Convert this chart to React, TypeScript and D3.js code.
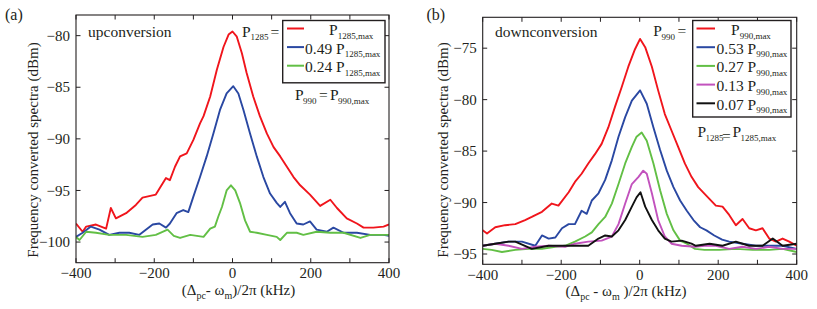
import React from 'react';
import * as d3 from 'd3';

type Pt = [number, number];

const FONT = "'Liberation Serif', 'DejaVu Serif', serif";
const INK = '#231f20';

// axis ticks
const xTicks = [-400, -300, -200, -100, 0, 100, 200, 300, 400];
const xTickLabels = [-400, -200, 0, 200, 400];
const yTicksUp = [-100, -95, -90, -85, -80];
const yTicksDown = [-95, -90, -85, -80, -75];

// (a) upconversion, P1285 varied
const upRed: Pt[] = [[-400,-98.2],[-383,-99.0],[-374,-98.5],[-349,-98.3],[-323,-98.7],[-311,-96.7],[-298,-97.7],[-272,-97.2],[-247,-96.4],[-230,-95.7],[-196,-95.4],[-170,-93.8],[-160,-94.0],[-147,-92.7],[-134,-91.7],[-117,-91.4],[-100,-90.1],[-83,-88.5],[-74,-87.8],[-57,-85.9],[-40,-83.3],[-23,-81.1],[-10,-79.9],[0,-79.6],[11,-80.1],[24,-81.7],[36,-83.6],[53,-85.9],[70,-87.8],[88,-89.5],[105,-90.8],[122,-91.7],[139,-92.7],[156,-93.7],[173,-94.5],[198,-95.4],[224,-96.5],[250,-95.9],[267,-96.7],[292,-97.7],[318,-98.2],[335,-98.6],[360,-98.6],[386,-98.5],[400,-98.3]];
const upBlue: Pt[] = [[-400,-99.5],[-383,-99.1],[-362,-98.5],[-340,-98.8],[-315,-99.3],[-289,-99.1],[-264,-99.1],[-238,-99.3],[-204,-98.3],[-187,-98.2],[-170,-98.6],[-160,-98.2],[-143,-97.2],[-126,-96.9],[-113,-97.1],[-100,-95.6],[-83,-93.7],[-66,-91.7],[-49,-89.5],[-32,-87.2],[-15,-85.6],[2,-84.9],[15,-85.6],[28,-87.2],[45,-89.5],[62,-91.7],[79,-93.7],[96,-95.3],[113,-96.2],[122,-96.6],[134,-96.1],[147,-97.2],[164,-98.2],[181,-98.3],[198,-98.0],[215,-98.8],[241,-99.0],[258,-98.6],[284,-99.1],[318,-99.1],[352,-99.3],[386,-99.3],[400,-99.4]];
const upGreen: Pt[] = [[-400,-99.5],[-391,-99.8],[-374,-99.0],[-349,-99.1],[-315,-99.3],[-272,-99.3],[-230,-99.5],[-196,-99.3],[-166,-98.8],[-150,-99.4],[-134,-99.6],[-108,-99.3],[-74,-99.5],[-57,-98.7],[-45,-98.5],[-36,-97.5],[-27,-96.6],[-15,-95.0],[-4,-94.5],[7,-95.0],[19,-96.2],[32,-97.9],[45,-99.0],[62,-99.1],[88,-99.3],[113,-99.5],[122,-99.8],[139,-99.1],[164,-99.1],[181,-99.3],[215,-99.0],[250,-99.1],[284,-99.1],[327,-99.6],[352,-99.3],[394,-99.3],[400,-99.3]];

// (b) downconversion, P990 varied
const downRed: Pt[] = [[-400,-92.7],[-389,-93.0],[-368,-92.4],[-343,-92.2],[-317,-92.1],[-292,-91.7],[-275,-91.4],[-249,-90.9],[-224,-90.1],[-207,-90.3],[-181,-89.0],[-165,-88.0],[-148,-87.2],[-131,-86.2],[-114,-85.3],[-97,-84.3],[-80,-82.7],[-63,-80.7],[-46,-78.8],[-29,-76.8],[-12,-75.1],[1,-74.1],[14,-74.9],[31,-76.8],[47,-79.1],[64,-81.4],[81,-83.0],[98,-84.6],[115,-86.2],[132,-87.5],[149,-88.5],[169,-89.3],[194,-90.3],[211,-90.4],[228,-91.2],[245,-92.2],[262,-91.6],[279,-92.5],[296,-92.7],[313,-92.5],[330,-93.5],[347,-93.8],[364,-93.5],[381,-93.8],[400,-94.2]];
const downBlue: Pt[] = [[-400,-94.2],[-368,-94.0],[-334,-93.8],[-300,-93.8],[-266,-94.2],[-249,-93.2],[-232,-93.5],[-215,-93.4],[-198,-92.5],[-181,-92.1],[-165,-92.1],[-148,-90.8],[-135,-91.1],[-122,-89.8],[-105,-89.1],[-88,-87.8],[-71,-85.9],[-54,-83.6],[-37,-81.7],[-20,-80.1],[1,-79.1],[18,-80.4],[35,-82.7],[52,-84.9],[69,-86.9],[86,-88.5],[103,-89.8],[120,-90.8],[137,-91.7],[154,-92.4],[170,-92.7],[190,-93.2],[210,-93.6],[228,-93.8],[262,-94.0],[296,-94.2],[330,-94.2],[364,-94.2],[400,-94.5]];
const downGreen: Pt[] = [[-400,-94.5],[-377,-94.6],[-351,-94.8],[-317,-94.6],[-283,-94.5],[-249,-94.5],[-215,-94.3],[-190,-94.2],[-165,-93.8],[-139,-93.3],[-122,-92.9],[-105,-92.1],[-88,-91.4],[-71,-90.1],[-54,-88.2],[-37,-86.2],[-20,-84.6],[-8,-83.6],[5,-83.2],[18,-84.0],[35,-86.2],[52,-88.8],[69,-91.1],[86,-92.7],[103,-93.7],[120,-94.0],[141,-94.5],[165,-94.6],[203,-94.6],[245,-94.5],[288,-94.6],[330,-94.6],[364,-94.5],[400,-94.8]];
const downMagenta: Pt[] = [[-400,-94.2],[-368,-94.0],[-334,-94.2],[-300,-94.5],[-266,-94.3],[-232,-94.2],[-190,-94.3],[-165,-94.0],[-131,-93.8],[-97,-93.7],[-71,-93.3],[-54,-92.1],[-37,-90.1],[-20,-88.2],[-3,-87.5],[9,-86.9],[18,-87.2],[31,-89.1],[47,-91.7],[64,-93.3],[81,-94.0],[107,-94.2],[141,-94.3],[165,-94.2],[194,-94.2],[228,-94.5],[262,-94.3],[296,-94.5],[330,-94.3],[364,-94.5],[400,-94.5]];
const downBlack: Pt[] = [[-400,-94.2],[-368,-94.0],[-334,-93.8],[-317,-93.8],[-275,-94.5],[-232,-94.2],[-190,-94.2],[-165,-94.2],[-131,-94.2],[-105,-93.5],[-88,-93.2],[-71,-93.3],[-54,-92.7],[-37,-91.7],[-20,-90.4],[-8,-89.5],[2,-89.0],[14,-90.4],[31,-91.7],[47,-92.7],[64,-93.5],[81,-93.8],[107,-93.7],[132,-94.0],[143,-94.2],[178,-94.0],[211,-94.2],[245,-93.8],[279,-94.2],[313,-94.2],[339,-93.5],[364,-94.2],[400,-94.0]];

const colors = {
  red: '#f0151c',
  blue: '#2a48a2',
  green: '#62bf45',
  magenta: '#c252bd',
  black: '#111111',
};

const upCoefs = ['', '0.49', '0.24'];
const downCoefs = ['', '0.53', '0.27', '0.13', '0.07'];

type Series = { data: Pt[]; color: string };

function Panel(props: {
  id: string;
  x0: number; x1: number; y0: number; y1: number;
  yDomain: [number, number];
  yTicks: number[];
  series: Series[];
}) {
  const { id, x0, x1, y0, y1, yDomain, yTicks, series } = props;
  const x = d3.scaleLinear().domain([-400, 400]).range([x0, x1]);
  const y = d3.scaleLinear().domain(yDomain).range([y1, y0]);
  const line = d3.line<Pt>().x(d => x(d[0])).y(d => y(d[1]));
  const tl = 4.5;
  return (
    <g>
      <defs>
        <clipPath id={'clip-' + id}>
          <rect x={x0} y={y0} width={x1 - x0} height={y1 - y0} />
        </clipPath>
      </defs>
      <g clipPath={`url(#clip-${id})`}>
        {series.map((s, i) => (
          <path key={i} d={line(s.data) || ''} fill="none" stroke={s.color}
            strokeWidth={1.9} strokeLinejoin="round" />
        ))}
      </g>
      <rect x={x0} y={y0} width={x1 - x0} height={y1 - y0} fill="none" stroke={INK} strokeWidth={1.1} />
      {xTicks.map(t => (
        <g key={'x' + t} stroke={INK} strokeWidth={1}>
          <line x1={x(t)} x2={x(t)} y1={y1} y2={y1 - tl} />
          <line x1={x(t)} x2={x(t)} y1={y0} y2={y0 + tl} />
        </g>
      ))}
      {yTicks.map(t => (
        <g key={'y' + t} stroke={INK} strokeWidth={1}>
          <line x1={x0} x2={x0 + tl} y1={y(t)} y2={y(t)} />
          <line x1={x1} x2={x1 - tl} y1={y(t)} y2={y(t)} />
        </g>
      ))}
      {xTickLabels.map(t => (
        <text key={'xl' + t} x={x(t)} y={y1 + 15.5} textAnchor="middle" fontSize={15} fill={INK}>
          {t < 0 ? '\u2212' + Math.abs(t) : String(t)}
        </text>
      ))}
      {yTicks.map(t => (
        <text key={'yl' + t} x={x0 - 6} y={y(t)} dy="0.35em" textAnchor="end" fontSize={15} fill={INK}>
          {'\u2212' + Math.abs(t)}
        </text>
      ))}
    </g>
  );
}

function Legend(props: {
  bx: number; by: number; bw: number; bh: number;
  rows: number[]; lx0: number; lx1: number; tx: number; firstTx: number;
  coefs: string[]; cols: string[]; sub: string;
}) {
  const { bx, by, bw, bh, rows, lx0, lx1, tx, firstTx, coefs, cols, sub } = props;
  return (
    <g>
      <rect x={bx} y={by} width={bw} height={bh} fill="#fff" stroke={INK} strokeWidth={1.4} />
      {coefs.map((c, i) => (
        <g key={i}>
          <line x1={lx0} x2={lx1} y1={rows[i]} y2={rows[i]} stroke={cols[i]} strokeWidth={2} />
          <text x={c ? tx : firstTx} y={rows[i] + 6.5} fontSize={15.5} fill={INK}>
            {c ? c + ' P' : 'P'}
            <tspan fontSize={9} dy={3.5}>{sub}</tspan>
          </text>
        </g>
      ))}
    </g>
  );
}

export default function App() {
  const upSeries: Series[] = [
    { data: upRed, color: colors.red },
    { data: upBlue, color: colors.blue },
    { data: upGreen, color: colors.green },
  ];
  const downSeries: Series[] = [
    { data: downRed, color: colors.red },
    { data: downBlue, color: colors.blue },
    { data: downGreen, color: colors.green },
    { data: downMagenta, color: colors.magenta },
    { data: downBlack, color: colors.black },
  ];
  const upRows = upCoefs.map((_, i) => 28.5 + i * 18.6);
  const downRows = downCoefs.map((_, i) => 28.5 + i * 18.7);

  return (
    <svg width={817} height={309} style={{ position: 'absolute', left: 0, top: 0, fontFamily: FONT }}>
      <rect width={817} height={309} fill="#fff" />

      {/* panel (a) */}
      <text x={5} y={19.5} fontSize={16} fill={INK}>(a)</text>
      <Panel id="a" x0={76} x1={389} y0={15} y1={262.7} yDomain={[-102, -78]}
        yTicks={yTicksUp} series={upSeries} />
      <text x={88} y={36.7} fontSize={15.5} fill={INK}>upconversion</text>
      <text y={36.5} fontSize={15.5} fill={INK}>
        <tspan x={242}>P</tspan>
        <tspan x={250.5} dy={3.5} fontSize={9}>1285</tspan>
        <tspan x={270.5} dy={-3.5}>=</tspan>
      </text>
      <Legend bx={282.7} by={20.5} bw={102.3} bh={62.3} rows={upRows}
        lx0={287} lx1={304} tx={305} firstTx={329} coefs={upCoefs}
        cols={[colors.red, colors.blue, colors.green]} sub="1285,max" />
      <text y={100} fontSize={15.5} fill={INK}>
        <tspan x={295}>P</tspan>
        <tspan x={303} dy={3.5} fontSize={9}>990</tspan>
        <tspan x={319} dy={-3.5}>=</tspan>
        <tspan x={330}>P</tspan>
        <tspan x={338} dy={3.5} fontSize={9}>990,max</tspan>
      </text>
      <text x={33} y={150} transform="rotate(-90 33 150)" dy="0.35em" textAnchor="middle" fontSize={15} fill={INK}>
        Frequency converted spectra  (dBm)
      </text>
      <text x={238.5} y={295} textAnchor="middle" fontSize={15} fill={INK}>
        {'(\u0394'}
        <tspan fontSize={10} dy={4}>pc</tspan>
        <tspan dy={-4}>{'- \u03c9'}</tspan>
        <tspan fontSize={10} dy={4}>m</tspan>
        <tspan dy={-4}>{')/2\u03c0 (kHz)'}</tspan>
      </text>

      {/* panel (b) */}
      <text x={426.5} y={19.5} fontSize={16} fill={INK}>(b)</text>
      <Panel id="b" x0={482.7} x1={796.7} y0={17.3} y1={264.3} yDomain={[-96, -72]}
        yTicks={yTicksDown} series={downSeries} />
      <text x={495} y={37} fontSize={15.5} fill={INK}>downconversion</text>
      <text y={35.7} fontSize={15.5} fill={INK}>
        <tspan x={653.3}>P</tspan>
        <tspan x={661.5} dy={4} fontSize={9}>990</tspan>
        <tspan x={677.5} dy={-4}>=</tspan>
      </text>
      <Legend bx={692.7} by={20.5} bw={98.3} bh={96.5} rows={downRows}
        lx0={696.5} lx1={715} tx={716.5} firstTx={731} coefs={downCoefs}
        cols={[colors.red, colors.blue, colors.green, colors.magenta, colors.black]} sub="990,max" />
      <text y={137} fontSize={15.5} fill={INK}>
        <tspan x={697.5}>P</tspan>
        <tspan x={705.5} dy={3.5} fontSize={9}>1285</tspan>
        <tspan x={722}>=</tspan>
        <tspan x={732.5} dy={-3.5}>P</tspan>
        <tspan x={740.5} dy={3.5} fontSize={9}>1285,max</tspan>
      </text>
      <text x={443} y={150} transform="rotate(-90 443 150)" dy="0.35em" textAnchor="middle" fontSize={15} fill={INK}>
        Frequency converted spectra  (dBm)
      </text>
      <text x={626} y={296} textAnchor="middle" fontSize={15} fill={INK}>
        {'(\u0394'}
        <tspan fontSize={10} dy={4}>pc</tspan>
        <tspan dy={-4}>{' - \u03c9'}</tspan>
        <tspan fontSize={10} dy={4}>m</tspan>
        <tspan dy={-4}>{' )/2\u03c0 (kHz)'}</tspan>
      </text>
    </svg>
  );
}
